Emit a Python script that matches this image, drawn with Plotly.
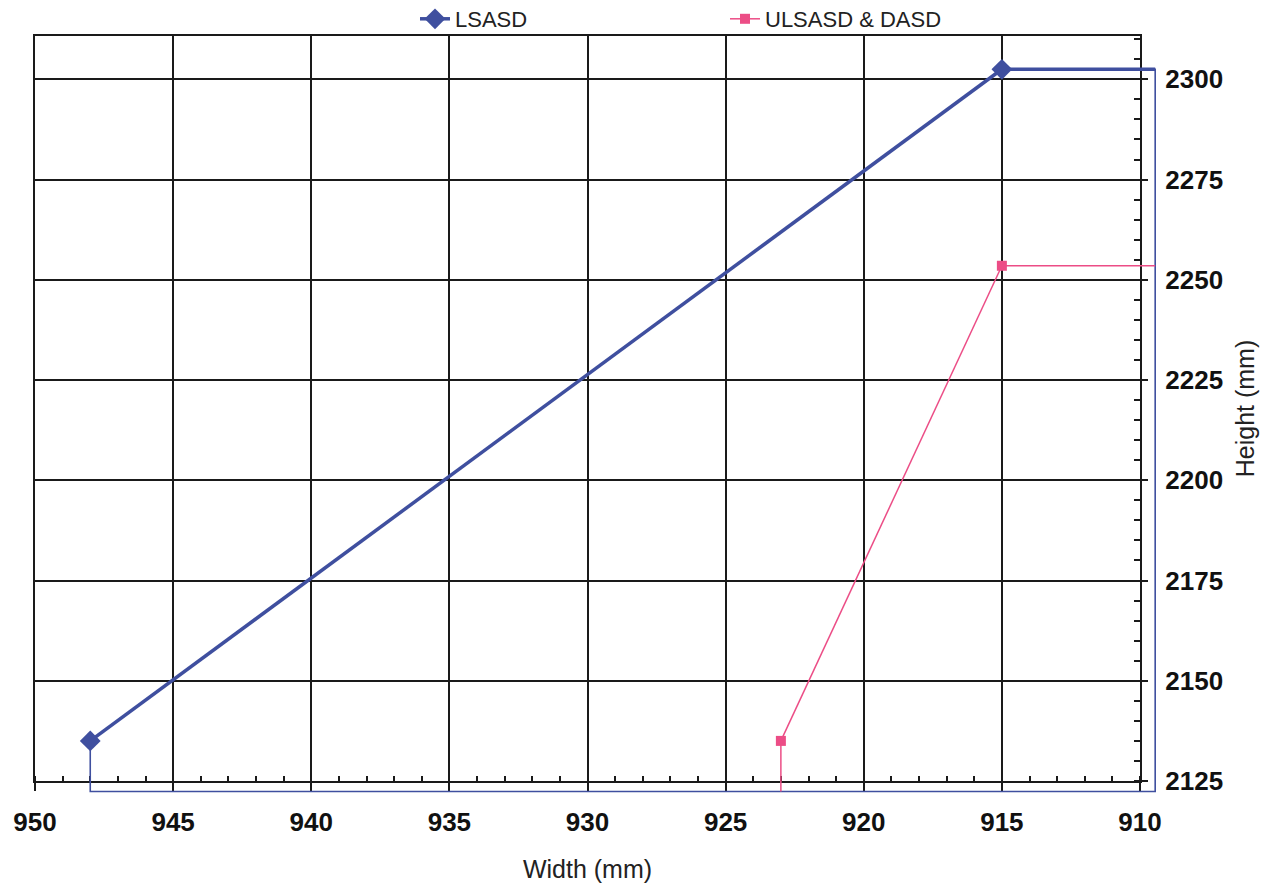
import plotly.graph_objects as go

# ---------------- data ----------------
lsasd_x = [948, 915]
lsasd_y = [2135, 2302.5]
ulsasd_x = [923, 915]
ulsasd_y = [2135, 2253.5]
# leader lines of the original series that run past the axes
edge_x = 909.45
edge_y = 2122.4

x_ticks = [950, 945, 940, 935, 930, 925, 920, 915, 910]
y_ticks = [2125, 2150, 2175, 2200, 2225, 2250, 2275, 2300]

BLUE = "#3f4f9f"
PINK = "#ec4d86"

# ---------------- geometry (pixels) ----------------
W, H = 1275, 884
PL, PR, PT, PB = 35, 1140, 36, 781       # framed plot area
OR, OB = 1158, 794                         # outer area where leader lines live
X0, X1 = 950, 910
Y0, Y1 = 2125, 2310.8

pw = OR - PL
ph = OB - PT
sx = (PR - PL) / (X0 - X1)
sy = (PB - PT) / (Y1 - Y0)

fig = go.Figure()

# anchor trace so the framed axes are drawn
fig.add_trace(go.Scatter(x=[None], y=[None], mode="lines", showlegend=False,
                         hoverinfo="skip", xaxis="x", yaxis="y"))

# leader lines (thin)
fig.add_trace(go.Scatter(x=[lsasd_x[1], edge_x, edge_x, lsasd_x[0], lsasd_x[0]],
                         y=[lsasd_y[1], lsasd_y[1], edge_y, edge_y, lsasd_y[0]],
                         mode="lines", line=dict(color=BLUE, width=1.6),
                         showlegend=False, hoverinfo="skip", xaxis="x2", yaxis="y2"))
fig.add_trace(go.Scatter(x=[lsasd_x[1], edge_x], y=[lsasd_y[1], lsasd_y[1]],
                         mode="lines", line=dict(color=BLUE, width=3.5),
                         showlegend=False, hoverinfo="skip", xaxis="x2", yaxis="y2"))
fig.add_trace(go.Scatter(x=[ulsasd_x[1], edge_x], y=[ulsasd_y[1], ulsasd_y[1]],
                         mode="lines", line=dict(color=PINK, width=1.5),
                         showlegend=False, hoverinfo="skip", xaxis="x2", yaxis="y2"))
fig.add_trace(go.Scatter(x=[ulsasd_x[0], ulsasd_x[0]], y=[edge_y, ulsasd_y[0]],
                         mode="lines", line=dict(color=PINK, width=1.5),
                         showlegend=False, hoverinfo="skip", xaxis="x2", yaxis="y2"))

# main series
fig.add_trace(go.Scatter(x=lsasd_x, y=lsasd_y, name="LSASD", mode="lines+markers",
                         line=dict(color=BLUE, width=3.5),
                         marker=dict(symbol="diamond", size=16, color=BLUE),
                         xaxis="x2", yaxis="y2"))
fig.add_trace(go.Scatter(x=ulsasd_x, y=ulsasd_y, name="ULSASD & DASD", mode="lines+markers",
                         line=dict(color=PINK, width=1.5),
                         marker=dict(symbol="square", size=10, color=PINK),
                         xaxis="x2", yaxis="y2"))

tick_font = dict(family="Liberation Sans, Arial", size=26, color="#111111", weight="bold")
title_font = dict(family="Liberation Sans, Arial", size=25, color="#222222")

fig.update_layout(
    width=W, height=H,
    margin=dict(l=PL, r=W - OR, t=PT, b=H - OB, autoexpand=False),
    paper_bgcolor="white",
    plot_bgcolor="rgba(0,0,0,0)",
    showlegend=True,
    legend=dict(orientation="h", x=(415 - PL) / pw, xanchor="left",
                y=1 + (PT + 2) / ph, yanchor="top",
                entrywidth=265, entrywidthmode="pixels",
                font=dict(family="Liberation Sans, Arial", size=22, color="#222222"),
                bgcolor="rgba(0,0,0,0)"),
    xaxis=dict(domain=[0, (PR - PL) / pw], range=[X0, X1], anchor="y",
               tickvals=x_ticks, ticktext=[str(v) for v in x_ticks],
               showgrid=True, gridcolor="#1a1a1a", gridwidth=2.2,
               showline=True, linecolor="#1a1a1a", linewidth=2.2, mirror=True,
               ticks="outside", ticklen=8, tickwidth=2, tickcolor="#1a1a1a",
               ticklabelstandoff=9,
               minor=dict(dtick=1, ticks="inside", ticklen=5, tickwidth=1.5,
                          tickcolor="#1a1a1a", showgrid=False),
               zeroline=False, tickfont=tick_font,
               title=dict(text="Width (mm)", font=title_font, standoff=24)),
    yaxis=dict(domain=[(OB - PB) / ph, 1], range=[Y0, Y1], anchor="x", side="right",
               tickvals=y_ticks, ticktext=[str(v) for v in y_ticks],
               showgrid=True, gridcolor="#1a1a1a", gridwidth=2.2,
               showline=True, linecolor="#1a1a1a", linewidth=2.2, mirror=True,
               ticks="outside", ticklen=6, tickwidth=2, tickcolor="#1a1a1a",
               ticklabelstandoff=12,
               minor=dict(dtick=5, ticks="inside", ticklen=6, tickwidth=1.5,
                          tickcolor="#1a1a1a", showgrid=False),
               zeroline=False, tickfont=tick_font,
               title=dict(text="Height (mm)", font=title_font, standoff=14)),
    xaxis2=dict(domain=[0, 1], range=[X0, X0 - pw / sx], anchor="y2",
                visible=False, showgrid=False, zeroline=False),
    yaxis2=dict(domain=[0, 1], range=[Y1 - ph / sy, Y1], anchor="x2",
                visible=False, showgrid=False, zeroline=False),
)

fig.write_html("out.html")
